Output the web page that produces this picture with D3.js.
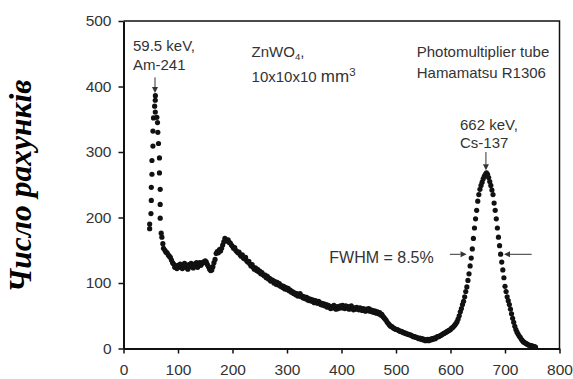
<!DOCTYPE html>
<html>
<head>
<meta charset="utf-8">
<script src="https://cdn.jsdelivr.net/npm/d3@7/dist/d3.min.js"></script>
<style>
  body { margin: 0; background: #fff; }
  svg { display: block; }
</style>
</head>
<body>
<svg id="chart" width="573" height="379"></svg>
<script>
// Axis ticks
const xTicks = [0, 100, 200, 300, 400, 500, 600, 700, 800];
const yTicks = [0, 100, 200, 300, 400, 500];

// Pulse-height spectrum of ZnWO4, [energy keV, counts]
// 59.5 keV line of Am-241
const amPeak = [
  [48.0, 183], [48.0, 190], [50.4, 206], [51.0, 226], [51.0, 246], [52.2, 266],
  [52.2, 287], [54.0, 309], [54.0, 332], [55.1, 352], [58.3, 361], [57.1, 370],
  [58.3, 379], [58.5, 386], [61.2, 353], [62.4, 345], [63.0, 330], [64.2, 313],
  [66.0, 291], [66.0, 268], [67.3, 243], [67.3, 220], [67.3, 199], [69.2, 176],
  [70.4, 170], [72.2, 160], [73.4, 153]
];

// Compton continuum and valley
const continuum = [
  [76,150],[78,147],[80,146],[82,143],[84,141],[86,139],[88,135],[90,131],[92,129],[94,124],
  [96,126],[98,122],[100,127],[102,124],[104,129],[106,125],[108,122],[110,127],[112,130],[114,124],
  [116,126],[118,121],[120,128],[122,125],[124,130],[126,127],[128,123],[130,129],[132,126],[134,131],
  [136,124],[138,128],[140,131],[142,127],[144,130],[146,132],[148,131],[150,134],[152,132],[154,128],
  [156,125],[158,121],[160,119],[162,120],[164,125],[166,131],[168,136],[170,145],[172,148],[174,146],
  [176,151],[178,149],[180,153],[182,158],[184,163],[186,168],[188,166],[190,164],[192,166],[194,162],
  [196,161],[198,158],[200,156],[202,153],[204,154],[206,150],[208,148],[210,146],[212,147],[214,143],
  [216,141],[218,143],[220,138],[222,137],[224,139],[226,134],[228,132],[230,133],[232,129],[234,126],
  [236,128],[238,124],[240,121],[242,123],[244,119],[246,121],[248,117],[250,118],[252,114],[254,116],
  [256,113],[258,111],[260,112],[262,108],[264,110],[266,106],[268,107],[270,103],[272,105],[274,104],
  [276,100],[278,102],[280,98],[282,101],[284,97],[286,99],[288,95],[290,96],[292,93],[294,95],
  [296,91],[298,93],[300,90],[302,92],[304,88],[306,89],[308,86],[310,87],[312,84],[314,85],
  [316,82],[318,84],[320,80],[322,81],[324,84],[326,79],[328,80],[330,77],[332,79],[334,76],
  [336,78],[338,74],[340,76],[342,73],[344,75],[346,72],[348,74],[350,70],[352,73],[354,71],
  [356,69],[358,72],[360,70],[362,67],[364,69],[366,66],[368,68],[370,65],[372,67],[374,63],
  [376,66],[378,64],[380,61],[382,64],[384,62],[386,66],[388,63],[390,60],[392,64],[394,61],
  [396,63],[398,65],[400,62],[402,66],[404,63],[406,61],[408,65],[410,62],[412,64],[414,60],
  [416,63],[418,65],[420,61],[422,59],[424,62],[426,60],[428,63],[430,61],[432,59],[434,62],
  [436,60],[438,58],[440,61],[442,59],[444,57],[446,60],[448,58],[450,61],[452,57],[454,59],
  [456,56],[458,58],[460,55],[462,57],[464,54],[466,56],[468,53],[470,55],[472,51],[474,52],
  [476,49],[478,47],[480,45],[482,43],[484,40],[486,38],[488,36],[490,34],[492,34],[494,32],
  [496,31],[498,30],[500,29],[502,29],[504,28],[506,27],[508,26],[510,26],[512,25],[514,24],
  [516,24],[518,23],[520,22],[522,22],[524,21],[526,21],[528,20],[530,19],[532,18],[534,18],
  [536,17],[538,17],[540,16],[542,15],[544,16],[546,14],[548,15],[550,13],[552,14],[554,12],
  [556,13],[558,14],[560,12],[562,14],[564,13],[566,15],[568,14],[570,16],[572,15],[574,17],
  [576,18],[578,18],[580,19],[582,20],[584,21],[586,22],[588,23],[590,24],[592,25],[594,26],
  [596,27],[598,28]
];

// 662 keV full-energy peak of Cs-137
const csPeak = [
  [600,29],[602,31],[604,32],[606,34],[608,36],[610,38],[612,41],[614,45],[616,50],[618,56],
  [620,61],[622,67],[624,72],[626,79],[628,87],[630,94],[632,104],[634,114],[636,126],[638,138],
  [640,152],[642,168],[644,184],[646,198],[648,211],[650,225],[652,235],[654,243],[656,249],[658,254],
  [660,259],[662,263],[664,266],[666,268],[668,266],[670,261],[672,255],[674,249],[676,242],[678,235],
  [680,222],[682,211],[684,198],[686,184],[688,170],[690,157],[692,144],[694,132],[696,120],[698,108],
  [700,95],[702,87],[704,79],[706,73],[708,67],[710,60],[712,53],[714,46],[716,40],[718,34],
  [720,29],[722,25],[724,22],[726,19],[728,17],[730,14],[732,12],[734,10],[736,9],[738,8],
  [740,7],[742,6],[744,5],[746,5],[748,4],[750,4],[752,3],[754,3],[756,2]
];

const yTitle = "Число рахунків";

const svg = d3.select("#chart");
const plot = { left: 123.5, right: 559.5, top: 21, bottom: 348.5 };

const x = d3.scaleLinear().domain([0, 800]).range([plot.left, plot.right]);
const y = d3.scaleLinear().domain([0, 500]).range([plot.bottom, plot.top]);

const sans = "'Liberation Sans', Arial, sans-serif";
const ink = "#333";

// frame (top and right)
svg.append("path")
  .attr("d", `M${plot.left},${plot.top}H${plot.right}V${plot.bottom}`)
  .attr("fill", "none").attr("stroke", "#111").attr("stroke-width", 1.5);

// axes
const gx = svg.append("g")
  .attr("transform", `translate(0,${plot.bottom})`)
  .call(d3.axisBottom(x).tickValues(xTicks).tickSize(5).tickSizeOuter(0).tickPadding(10));
const gy = svg.append("g")
  .attr("transform", `translate(${plot.left},0)`)
  .call(d3.axisLeft(y).tickValues(yTicks).tickSize(5).tickSizeOuter(0).tickPadding(7));

[gx, gy].forEach(g => {
  g.select(".domain").attr("stroke", "#111").attr("stroke-width", 2);
  g.selectAll(".tick line").attr("stroke", "#111").attr("stroke-width", 1.5);
  g.selectAll(".tick text")
    .attr("fill", ink).style("font-family", sans).style("font-size", "15.5px");
});

// spectrum points
const points = amPeak.concat(continuum, csPeak);
svg.append("g").selectAll("circle")
  .data(points)
  .join("circle")
  .attr("cx", d => x(d[0]))
  .attr("cy", d => y(d[1]))
  .attr("r", 2.6)
  .attr("fill", "#111");

// y-axis title
const title = svg.append("text")
  .attr("transform", `translate(31,186) rotate(-90)`)
  .attr("text-anchor", "middle")
  .style("font-family", "'Liberation Serif', 'Times New Roman', serif")
  .style("font-weight", "bold")
  .style("font-style", "italic")
  .style("font-size", "30px")
  .attr("fill", "#000")
  .text(yTitle);
const tl = title.node().getComputedTextLength();
title.style("font-size", (30 * 213 / tl).toFixed(2) + "px");

// annotation helpers
function label(xv, yv, str, size) {
  return svg.append("text")
    .attr("x", x(xv)).attr("y", y(yv))
    .attr("fill", ink)
    .style("font-family", sans)
    .style("font-size", (size || 15) + "px")
    .text(str);
}

function arrow(x1, y1, x2, y2) {
  const X1 = x(x1), Y1 = y(y1), X2 = x(x2), Y2 = y(y2);
  const a = Math.atan2(Y2 - Y1, X2 - X1);
  const len = 6, half = 3;
  const bx = X2 - len * Math.cos(a), by = Y2 - len * Math.sin(a);
  svg.append("line")
    .attr("x1", X1).attr("y1", Y1).attr("x2", bx).attr("y2", by)
    .attr("stroke", ink).attr("stroke-width", 1);
  svg.append("path")
    .attr("d", `M${X2},${Y2}L${bx - half * Math.sin(a)},${by + half * Math.cos(a)}L${bx + half * Math.sin(a)},${by - half * Math.cos(a)}Z`)
    .attr("fill", ink);
}

// Am-241 line
label(17.4, 454, "59.5 keV,");
label(17.4, 425, "Am-241");
arrow(57.8, 414, 57.8, 390);

// crystal
const zn = label(235, 445.5, "ZnWO", 15);
zn.append("tspan").attr("dy", 3).style("font-size", "9.5px").text("4");
zn.append("tspan").attr("dy", -3).text(",");
const dim = label(235, 407, "10x10x10 ", 15);
dim.append("tspan").style("font-size", "17px").text("mm");
dim.append("tspan").attr("dy", -6).style("font-size", "11.5px").text("3");

// detector
label(538, 445.5, "Photomultiplier tube", 15);
label(538, 412.5, "Hamamatsu R1306", 15);

// Cs-137 line
label(617.4, 333.6, "662 keV,");
label(617.4, 305.6, "Cs-137");
arrow(665, 300, 665, 272);

// resolution
label(377.6, 130, "FWHM = 8.5%", 16);
arrow(599, 143.8, 629.5, 143.8);
arrow(749, 143.8, 698.2, 143.8);
</script>
</body>
</html>
